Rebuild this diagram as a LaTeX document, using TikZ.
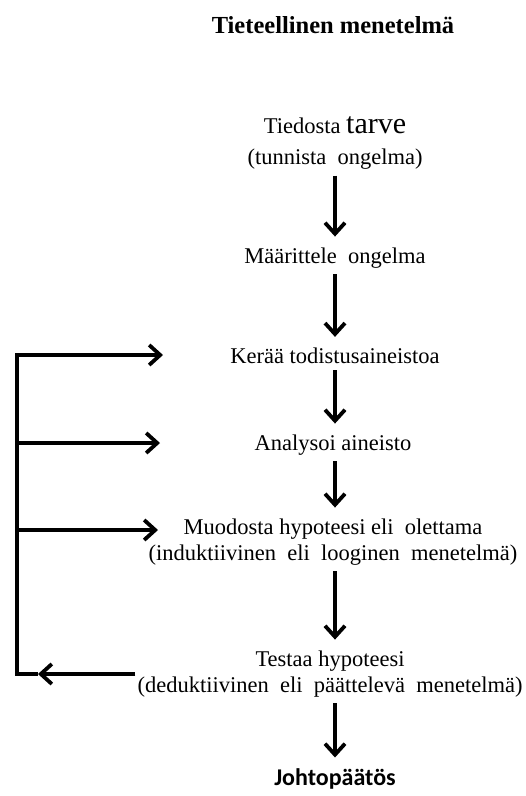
\documentclass[tikz,border=0pt]{standalone}
\usepackage{fontspec}
\setmainfont{Liberation Serif}
\newfontfamily\johtofont{Carlito}
\usetikzlibrary{arrows.meta}

\tikzset{
	vaihe/.style={align=center, inner sep=2pt, font=\fontsize{22.5}{26}\selectfont},
	paksu/.style={line width=3.8pt, line join=miter},
	karki/.style={-{Straight Barb[length=11pt,width=20pt]}},
	nuoli/.style={paksu, karki, shorten <=4pt, shorten >=9pt},
}

\begin{document}
\begin{tikzpicture}[x=1pt, y=-1pt]
	\useasboundingbox (0,0) rectangle (526,796);
	% Title
	\node[font=\fontsize{24.5}{28}\selectfont\bfseries] (otsikko) at (333,25) {Tieteellinen menetelmä};

	% Steps of the method
	\node[vaihe, font=\fontsize{22.5}{31}\selectfont] (tiedosta) at (335,143) {Tiedosta {\fontsize{30}{31}\selectfont tarve}\\(tunnista\ \ ongelma)};
	\node[vaihe] (maar) at (335,258) {Määrittele\ \ ongelma};
	\node[vaihe] (keraa) at (335,356) {Kerää todistusaineistoa};
	\node[vaihe] (analysoi) at (333,445) {Analysoi\ aineisto};
	\node[vaihe] (muodosta) at (333,542) {Muodosta hypoteesi eli\ \ olettama\\(induktiivinen\ \ eli\ \ looginen\ \ menetelmä)};
	\node[vaihe] (testaa) at (330,674) {Testaa hypoteesi\\(deduktiivinen\ \ eli\ \ päättelevä\ \ menetelmä)};
	\node[font=\johtofont\bfseries\fontsize{24}{28}\selectfont, inner sep=2pt] (johto) at (335,779) {Johtopäätös};

	% Arrows down the column
	\coordinate (akseli) at (335,0);
	\foreach \a/\b in {tiedosta/maar, maar/keraa, keraa/analysoi, analysoi/muodosta, muodosta/testaa, testaa/johto}
	\draw[nuoli] (\a.south -| akseli) -- (\b.north -| akseli);

	% Feedback loop on the left
	\coordinate (kulma) at (17,674);
	\coordinate (palaute) at (38,674);
	\coordinate (ylakulma) at (17,355);
	\coordinate (keraain) at (163,355);
	\coordinate (haara2) at (17,443);
	\coordinate (analysoiin) at (160,443);
	\coordinate (haara3) at (17,530);
	\coordinate (muodostain) at (158,530);

	\draw[paksu, karki] (testaa.west) -- (palaute);
	\draw[paksu] (palaute) -- (kulma) -- (ylakulma);
	\draw[paksu, karki] (kulma) -- (ylakulma) -- (keraain);
	\draw[paksu, karki] (haara2) -- (analysoiin);
	\draw[paksu, karki] (haara3) -- (muodostain);
\end{tikzpicture}
\end{document}
